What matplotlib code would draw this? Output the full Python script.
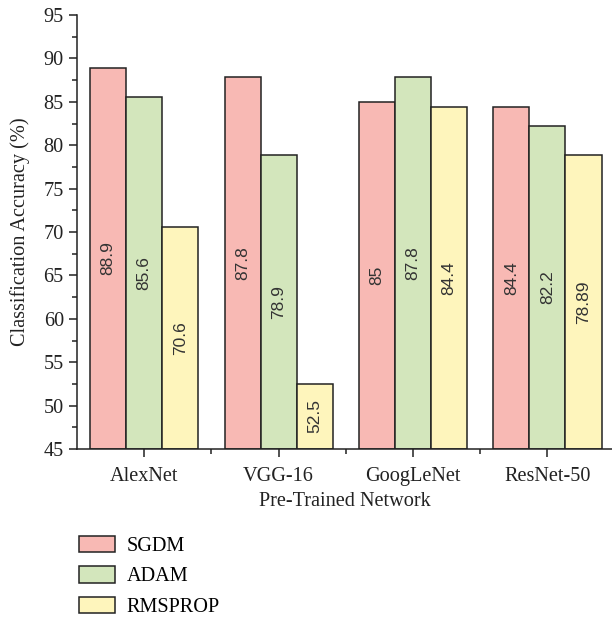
import matplotlib
matplotlib.use("Agg")
import matplotlib.pyplot as plt
import numpy as np
from matplotlib.patches import Patch
from matplotlib.ticker import MultipleLocator, FixedLocator

categories = ["AlexNet", "VGG-16", "GoogLeNet", "ResNet-50"]
series_names = ["SGDM", "ADAM", "RMSPROP"]
sgdm = [88.9, 87.8, 85, 84.4]
adam = [85.6, 78.9, 87.8, 82.2]
rmsprop = [70.6, 52.5, 84.4, 78.89]
sgdm_labels = ["88.9", "87.8", "85", "84.4"]
adam_labels = ["85.6", "78.9", "87.8", "82.2"]
rmsprop_labels = ["70.6", "52.5", "84.4", "78.89"]
yticks = [45, 50, 55, 60, 65, 70, 75, 80, 85, 90, 95]

colors = ["#F8B9B4", "#D3E6BC", "#FEF5BC"]
edge = "#222222"
fs = 14.6

plt.rcParams['font.family'] = ['Liberation Serif', 'DejaVu Serif']

fig = plt.figure(figsize=(6.12, 6.18), dpi=100)
ax = fig.add_axes([77/612, 1-449/618, (612-77)/612, (449-15)/618])

x = np.arange(len(categories))
w = 0.268
base = 45
for i, (vals, labs) in enumerate(zip([sgdm, adam, rmsprop], [sgdm_labels, adam_labels, rmsprop_labels])):
    xs = x + (i-1)*w
    ax.bar(xs, np.array(vals)-base, bottom=base, width=w, color=colors[i],
           edgecolor=edge, linewidth=1.1, zorder=2)
    for xi, v, l in zip(xs, vals, labs):
        ax.text(xi, (base+v)/2, l, rotation=90, ha='center', va='center',
                fontsize=12.5, color='#333333', zorder=3,
                family=['Liberation Sans', 'DejaVu Sans'])

ax.set_xlim(-0.5, 3.48)
ax.set_ylim(45, 95)
ax.set_yticks(yticks)
ax.yaxis.set_minor_locator(MultipleLocator(2.5))
ax.set_xticks(x)
ax.set_xticklabels(categories)
ax.xaxis.set_minor_locator(FixedLocator([0.5, 1.5, 2.5]))
for s in ['top', 'right']:
    ax.spines[s].set_visible(False)
for s in ['left', 'bottom']:
    ax.spines[s].set_linewidth(1.1)
    ax.spines[s].set_color('#222222')
ax.tick_params(axis='both', which='major', direction='out', length=6, width=1.1,
               labelsize=fs, colors='#222222')
ax.tick_params(axis='both', which='minor', direction='out', length=3.5, width=1.1,
               colors='#222222')
ax.tick_params(axis='x', which='major', pad=7)
ax.set_ylabel("Classification Accuracy (%)", fontsize=fs, color='#222222', labelpad=10)
ax.set_xlabel("Pre-Trained Network", fontsize=fs, color='#222222', labelpad=4)

handles = [Patch(facecolor=c, edgecolor=edge, linewidth=1.1) for c in colors]
fig.legend(handles, series_names, loc='upper left', bbox_to_anchor=(71/612, 1-528/618),
           frameon=False, fontsize=fs, handlelength=1.75, handleheight=0.85,
           labelspacing=0.5, handletextpad=0.6, borderaxespad=0)

fig.savefig("out.png", dpi=100)
